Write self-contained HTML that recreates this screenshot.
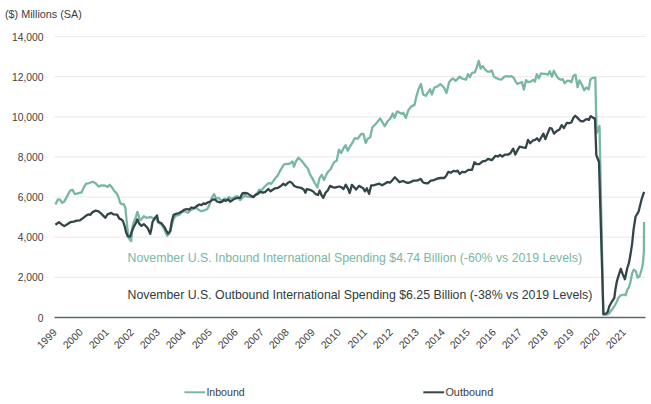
<!DOCTYPE html>
<html><head><meta charset="utf-8"><style>
html,body{margin:0;padding:0;background:#fff;}
body{width:651px;height:404px;position:relative;overflow:hidden;font-family:"Liberation Sans",sans-serif;color:#3d3d3d;}
svg{position:absolute;left:0;top:0;}
.yl{position:absolute;right:607.5px;font-size:10.3px;line-height:12px;height:12px;white-space:nowrap;}
.yr{position:absolute;top:324.8px;font-size:10.4px;line-height:11px;height:11px;white-space:nowrap;transform-origin:100% 50%;transform:rotate(-45deg);}
.t{position:absolute;white-space:nowrap;}
</style></head><body>
<svg width="651" height="404" viewBox="0 0 651 404">
<line x1="54.5" x2="645.5" y1="277.36" y2="277.36" stroke="#ececec" stroke-width="1.2"/>
<line x1="54.5" x2="645.5" y1="237.22" y2="237.22" stroke="#ececec" stroke-width="1.2"/>
<line x1="54.5" x2="645.5" y1="197.08" y2="197.08" stroke="#ececec" stroke-width="1.2"/>
<line x1="54.5" x2="645.5" y1="156.94" y2="156.94" stroke="#ececec" stroke-width="1.2"/>
<line x1="54.5" x2="645.5" y1="116.80" y2="116.80" stroke="#ececec" stroke-width="1.2"/>
<line x1="54.5" x2="645.5" y1="76.66" y2="76.66" stroke="#ececec" stroke-width="1.2"/>
<line x1="54.5" x2="645.5" y1="36.52" y2="36.52" stroke="#ececec" stroke-width="1.2"/>
<line x1="54.5" x2="645.5" y1="317.5" y2="317.5" stroke="#5b6a6b" stroke-width="1.4"/>
<polyline fill="none" stroke="#78b7a5" stroke-width="2.3" stroke-linejoin="round" points="55.4,204.4 57.9,199.4 59.9,199.6 62.2,202.7 64.3,201.4 66.8,196.9 69.0,192.5 71.0,190.1 72.6,189.9 74.8,194.0 77.0,193.6 79.2,192.8 81.5,192.5 83.7,187.6 85.9,183.9 88.9,183.2 92.6,181.7 95.6,183.2 98.6,186.6 101.5,185.4 105.2,185.7 107.5,186.9 109.7,184.7 112.4,188.0 114.5,191.3 116.4,192.9 118.4,196.9 120.0,202.5 121.6,204.1 123.7,204.1 125.3,207.4 126.1,215.4 127.4,228.3 128.5,237.1 130.1,240.3 131.2,241.1 132.5,226.7 134.1,221.0 135.7,217.8 137.3,211.9 138.6,215.4 139.8,220.2 141.4,219.4 143.8,216.2 146.2,217.8 148.6,217.3 151.0,217.0 153.4,218.6 155.8,217.8 158.3,222.6 161.5,224.2 163.9,228.3 166.3,233.9 167.2,235.7 169.5,233.5 171.7,226.0 173.9,217.9 176.1,215.6 179.1,214.9 182.1,211.9 185.1,211.2 188.0,212.7 190.2,210.4 193.2,209.0 196.2,207.5 198.4,209.7 201.4,211.2 204.4,210.4 207.3,209.0 209.6,204.5 211.8,197.8 214.0,194.1 216.2,198.6 218.5,197.8 220.7,200.1 222.9,200.0 224.5,198.6 226.7,199.4 228.9,197.1 231.1,198.6 233.4,197.9 235.6,196.4 237.8,196.4 240.1,200.1 242.3,197.9 244.5,195.6 246.7,196.4 249.0,196.8 251.9,197.1 254.2,195.6 257.1,193.4 259.4,189.7 261.6,190.4 263.8,187.5 266.8,184.5 269.0,183.0 271.2,183.8 273.5,180.8 275.7,177.8 277.5,175.9 279.5,171.9 281.7,168.2 283.9,164.5 286.1,163.8 288.4,164.1 290.6,163.0 292.5,161.5 294.0,166.7 295.8,161.5 298.5,157.8 301.0,160.1 304.0,163.8 306.2,166.7 307.7,168.2 309.9,174.2 312.1,177.9 314.4,182.3 317.3,187.5 319.6,177.9 321.8,174.9 324.0,180.1 326.2,174.9 328.5,171.2 330.7,169.0 332.5,165.0 334.5,161.9 336.7,160.8 338.9,149.6 341.2,153.0 343.4,148.5 345.6,145.2 347.8,150.7 350.1,146.3 352.3,142.9 354.5,138.5 357.9,138.5 361.2,134.0 363.5,134.0 365.7,142.9 367.9,138.5 370.2,137.3 372.4,127.3 375.7,124.0 380.2,118.4 384.7,126.2 387.6,121.3 390.2,118.7 392.8,113.5 394.5,117.9 397.1,111.4 399.7,112.7 401.5,113.9 403.2,112.7 405.8,117.9 408.4,110.1 411.0,106.6 414.5,104.9 416.2,97.1 418.8,88.4 421.0,84.1 423.1,94.5 425.7,95.8 428.3,91.9 430.1,89.3 431.8,94.5 434.4,87.5 437.0,86.7 440.4,84.1 443.9,87.5 446.5,93.1 449.1,82.3 451.9,79.1 453.1,78.5 455.6,80.9 457.4,79.1 459.7,76.6 461.8,78.5 464.2,79.1 466.1,79.7 467.9,74.1 469.8,77.2 472.0,72.9 474.8,72.3 476.6,67.9 478.7,60.9 480.7,68.6 482.8,66.1 485.3,69.8 487.7,71.7 489.6,71.7 491.8,70.4 493.9,76.6 496.4,78.2 498.9,79.1 501.4,79.7 504.5,76.6 506.9,76.2 509.4,76.6 511.3,76.0 513.7,77.8 515.6,81.6 517.5,84.0 519.9,82.8 522.0,82.2 523.9,89.6 526.0,80.2 528.1,82.2 530.6,81.6 533.0,79.8 534.9,81.6 536.8,74.2 538.9,78.3 541.1,73.3 543.6,73.8 546.0,73.8 547.9,74.8 549.8,71.3 552.0,76.7 553.8,70.8 555.9,74.8 558.4,78.5 560.9,79.8 562.7,79.1 564.6,83.2 567.1,80.7 569.6,81.0 571.4,82.2 573.3,76.0 575.5,74.6 577.6,87.2 579.5,80.4 581.9,84.7 584.2,90.3 586.3,87.4 588.7,89.4 590.6,79.1 592.8,77.9 595.3,77.6 596.6,133.0 599.5,126.0 603.3,314.5 606.9,314.7 609.3,313.2 611.8,309.8 614.3,306.3 616.8,301.8 618.4,297.8 620.8,295.3 624.1,294.5 625.7,295.3 627.3,289.7 628.9,287.3 630.5,281.7 632.1,273.6 633.7,269.6 635.8,271.2 637.7,277.6 639.7,276.0 641.8,268.8 642.9,264.0 643.9,251.1 644.1,221.9"/>
<polyline fill="none" stroke="#344548" stroke-width="2.3" stroke-linejoin="round" points="55.4,224.7 58.9,222.2 61.4,224.2 64.3,226.1 67.3,224.2 70.3,222.2 73.7,221.7 76.7,220.7 80.0,220.3 83.0,218.1 85.9,215.8 88.2,214.4 90.4,214.8 92.6,212.1 95.6,210.6 98.6,211.4 101.5,213.9 105.2,217.8 107.5,214.4 111.2,212.9 113.7,214.4 117.2,214.6 119.3,218.6 121.3,219.4 122.9,221.0 124.8,226.7 126.1,232.3 127.7,236.3 130.1,236.6 131.7,231.5 133.8,226.7 135.7,223.4 137.3,219.4 139.0,223.4 141.4,225.9 143.8,224.2 145.7,225.9 147.8,228.3 150.2,233.9 151.5,228.3 152.6,221.8 155.0,217.8 157.0,215.4 158.3,221.8 161.5,223.4 164.7,227.5 166.5,231.2 168.0,233.5 170.2,231.2 171.7,221.6 173.6,214.9 176.1,213.9 179.1,213.0 182.1,211.2 184.3,209.7 187.3,209.0 189.1,209.7 191.4,207.5 194.0,208.2 196.9,206.0 199.2,204.5 201.4,205.2 203.6,203.5 205.8,203.8 208.1,202.3 210.3,201.5 212.5,199.6 214.8,199.3 217.0,201.5 220.0,202.3 222.2,201.6 223.7,200.1 225.9,200.8 228.2,199.4 230.4,201.6 232.6,200.1 234.9,198.6 237.8,197.9 240.1,197.9 242.3,193.4 244.5,193.0 247.5,193.4 249.7,194.9 251.9,196.4 253.4,197.1 255.6,194.9 257.9,193.9 260.1,191.9 263.1,192.7 265.3,191.9 268.3,189.0 270.5,191.2 272.7,189.7 275.0,188.3 278.0,187.8 280.9,186.0 283.2,183.8 285.4,185.3 287.6,183.1 289.9,181.6 292.1,183.1 294.3,186.0 297.3,187.2 301.0,187.8 304.0,189.8 305.4,192.7 306.9,189.0 309.9,189.8 312.9,191.2 315.8,194.2 318.1,195.0 319.6,190.5 321.8,195.7 323.3,197.9 325.5,192.7 327.7,190.5 330.0,185.9 332.5,187.1 334.9,187.7 336.8,187.1 339.2,186.5 341.1,187.1 343.5,189.0 345.7,184.7 347.8,188.3 349.7,193.0 351.9,184.9 354.0,187.1 356.1,189.6 358.9,185.9 361.3,187.1 363.2,188.3 365.0,191.4 366.9,188.3 369.1,193.9 371.2,185.3 373.6,185.3 376.7,184.4 379.2,183.7 382.2,185.3 384.7,183.7 387.1,182.2 390.2,182.5 392.1,180.4 394.9,177.3 397.3,179.7 399.4,182.2 403.1,181.0 406.2,182.5 408.1,182.9 410.5,182.2 413.0,180.7 416.1,180.7 418.5,180.1 420.7,178.9 422.8,182.2 425.3,183.2 427.7,183.4 430.8,180.7 433.9,180.1 437.6,178.5 440.6,178.0 444.3,178.0 446.2,175.8 448.3,171.9 451.1,172.7 453.5,170.9 456.0,171.5 457.6,170.6 459.7,174.0 462.1,171.9 465.2,172.1 468.3,169.9 472.0,169.9 474.4,162.3 476.9,164.1 479.3,164.1 482.5,161.4 485.6,160.8 488.0,158.9 491.8,160.2 495.5,155.8 497.9,156.5 500.0,154.9 502.3,156.5 504.8,154.6 507.8,154.6 510.3,153.4 513.2,148.7 515.3,154.6 517.1,150.9 519.6,146.6 522.7,147.4 525.8,147.8 528.0,139.8 530.1,143.2 532.6,140.7 535.1,139.8 536.9,138.3 539.2,141.0 541.3,137.3 543.4,133.6 545.3,139.1 547.8,132.9 549.9,128.0 551.8,128.6 554.0,133.6 556.7,131.1 559.5,129.5 561.7,125.1 563.9,128.0 566.9,122.8 569.1,123.1 571.3,122.5 573.6,117.6 575.3,115.7 578.0,118.4 580.5,121.0 583.2,121.3 585.4,119.6 587.4,119.1 588.9,119.9 590.6,116.1 592.9,117.6 595.0,118.6 596.3,155.0 599.0,162.0 603.4,314.2 605.9,313.7 607.8,311.7 609.3,306.3 611.8,301.8 614.3,297.9 615.5,289.0 616.8,281.7 619.2,273.6 620.8,268.8 622.5,273.6 624.9,279.2 627.3,268.0 628.9,263.2 630.5,254.3 632.1,243.8 633.6,229.4 635.6,216.5 638.6,211.6 641.5,199.7 644.1,191.8"/>
<line x1="184.4" x2="205" y1="392.3" y2="392.3" stroke="#78b7a5" stroke-width="2"/>
<line x1="423.3" x2="444.1" y1="392.3" y2="392.3" stroke="#344548" stroke-width="2"/>
</svg>
<div class="t" style="left:5px;top:8px;font-size:10.8px;line-height:13px;">($) Millions (SA)</div>
<div class="yl" style="top:312.5px">0</div>
<div class="yl" style="top:272.4px">2,000</div>
<div class="yl" style="top:232.2px">4,000</div>
<div class="yl" style="top:192.1px">6,000</div>
<div class="yl" style="top:151.9px">8,000</div>
<div class="yl" style="top:111.8px">10,000</div>
<div class="yl" style="top:71.7px">12,000</div>
<div class="yl" style="top:31.5px">14,000</div>
<div class="yr" style="right:596.0px">1999</div>
<div class="yr" style="right:570.1px">2000</div>
<div class="yr" style="right:544.3px">2001</div>
<div class="yr" style="right:518.5px">2002</div>
<div class="yr" style="right:492.6px">2003</div>
<div class="yr" style="right:466.8px">2004</div>
<div class="yr" style="right:440.9px">2005</div>
<div class="yr" style="right:415.0px">2006</div>
<div class="yr" style="right:389.2px">2007</div>
<div class="yr" style="right:363.4px">2008</div>
<div class="yr" style="right:337.5px">2009</div>
<div class="yr" style="right:311.6px">2010</div>
<div class="yr" style="right:285.8px">2011</div>
<div class="yr" style="right:259.9px">2012</div>
<div class="yr" style="right:234.1px">2013</div>
<div class="yr" style="right:208.2px">2014</div>
<div class="yr" style="right:182.4px">2015</div>
<div class="yr" style="right:156.5px">2016</div>
<div class="yr" style="right:130.7px">2017</div>
<div class="yr" style="right:104.8px">2018</div>
<div class="yr" style="right:79.0px">2019</div>
<div class="yr" style="right:53.1px">2020</div>
<div class="yr" style="right:27.3px">2021</div>

<div class="t" style="left:127.5px;top:251px;font-size:12.3px;line-height:15px;color:#78b7a5;">November U.S. Inbound International Spending $4.74 Billion (-60% vs 2019 Levels)</div>
<div class="t" style="left:127.5px;top:287.8px;font-size:12.32px;line-height:15px;color:#2f3b3d;">November U.S. Outbound International Spending $6.25 Billion (-38% vs 2019 Levels)</div>
<div class="t" style="left:206.4px;top:386.4px;font-size:10.6px;line-height:12px;">Inbound</div>
<div class="t" style="left:445.4px;top:385.9px;font-size:10.9px;line-height:12px;">Outbound</div>
</body></html>
